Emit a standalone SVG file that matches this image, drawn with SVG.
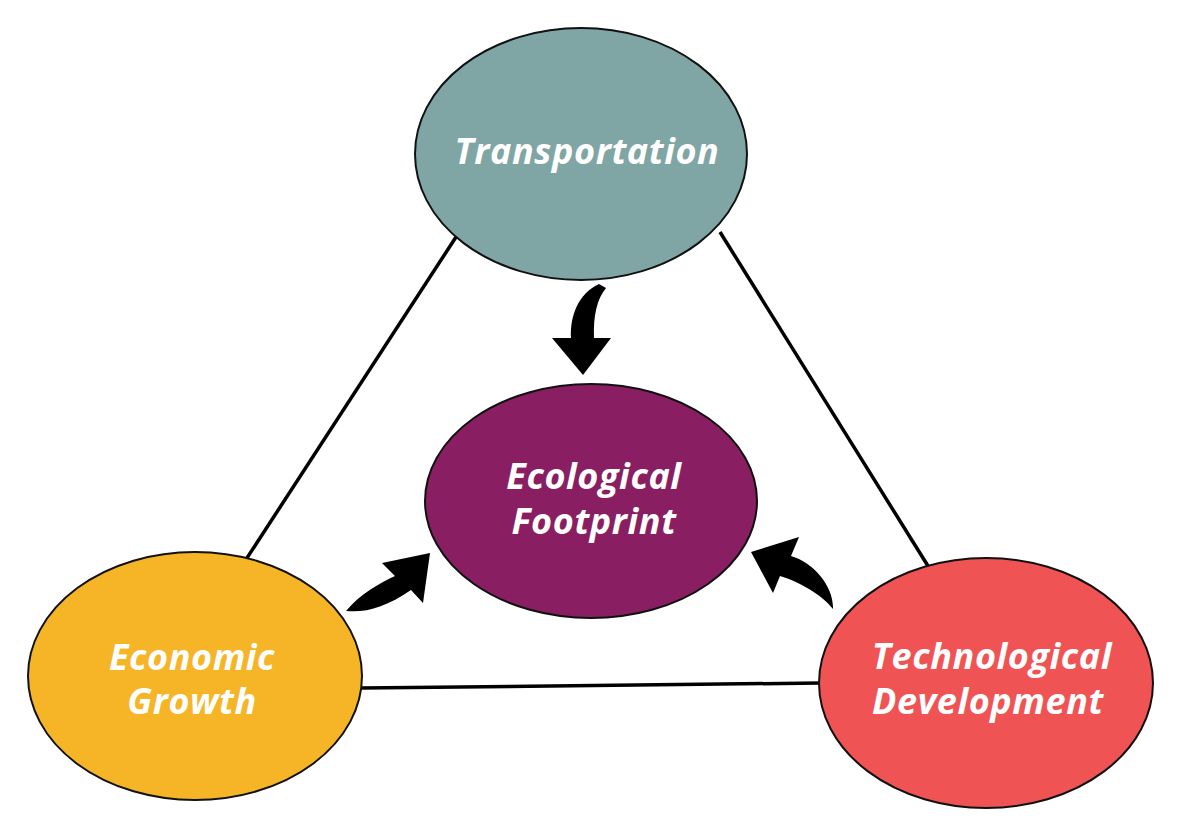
<svg xmlns="http://www.w3.org/2000/svg" width="1182" height="828" viewBox="0 0 1182 828">
<style>
.node{stroke:#111;stroke-width:2}
.lbl{font-family:"Open Sans","Liberation Sans",sans-serif;font-weight:bold;font-style:italic;font-size:36px;letter-spacing:0.6px;fill:#fff;text-anchor:middle}
.conn{stroke:#000;stroke-width:3.5;fill:none}
.arr{fill:#000}
</style>
<rect width="1182" height="828" fill="#fff"/>
<g id="connectors">
<line class="conn" x1="456" y1="237" x2="245" y2="561"/>
<line class="conn" x1="720" y1="232" x2="928" y2="566"/>
<line class="conn" x1="361" y1="688" x2="821" y2="683"/>
<path class="arr" d="M599,284 C578,294 570,316 571,338 L552,338 L583,375 L611,338 L594,338 C593,316 597,299 606,288 Z"/>
<path class="arr" d="M346,611 C360,594 380,583 395,576 L382,563 L430,553 L423,603 L411,590 C386,607 366,613 346,611 Z"/>
<path class="arr" d="M833,609 C834,588 815,563 791,556 L799,537 L751,552 L773,593 L780,576 C800,582 822,595 833,609 Z"/>
</g>
<g id="transportation">
<ellipse class="node" cx="581" cy="154" rx="166" ry="126" fill="#7FA6A4"/>
<text class="lbl" x="587" y="164">Transportation</text>
</g>
<g id="ecological">
<ellipse class="node" cx="591" cy="501" rx="166" ry="117" fill="#891F62"/>
<text class="lbl" x="594" y="489">Ecological</text>
<text class="lbl" x="594" y="534">Footprint</text>
</g>
<g id="economic">
<ellipse class="node" cx="195" cy="676" rx="167" ry="124" fill="#F6B526"/>
<text class="lbl" x="192" y="670">Economic</text>
<text class="lbl" x="192" y="714">Growth</text>
</g>
<g id="technological">
<ellipse class="node" cx="986" cy="683" rx="167" ry="125" fill="#F05353"/>
<text class="lbl" x="992" y="669">Technological</text>
<text class="lbl" x="988" y="714">Development</text>
</g>
</svg>
